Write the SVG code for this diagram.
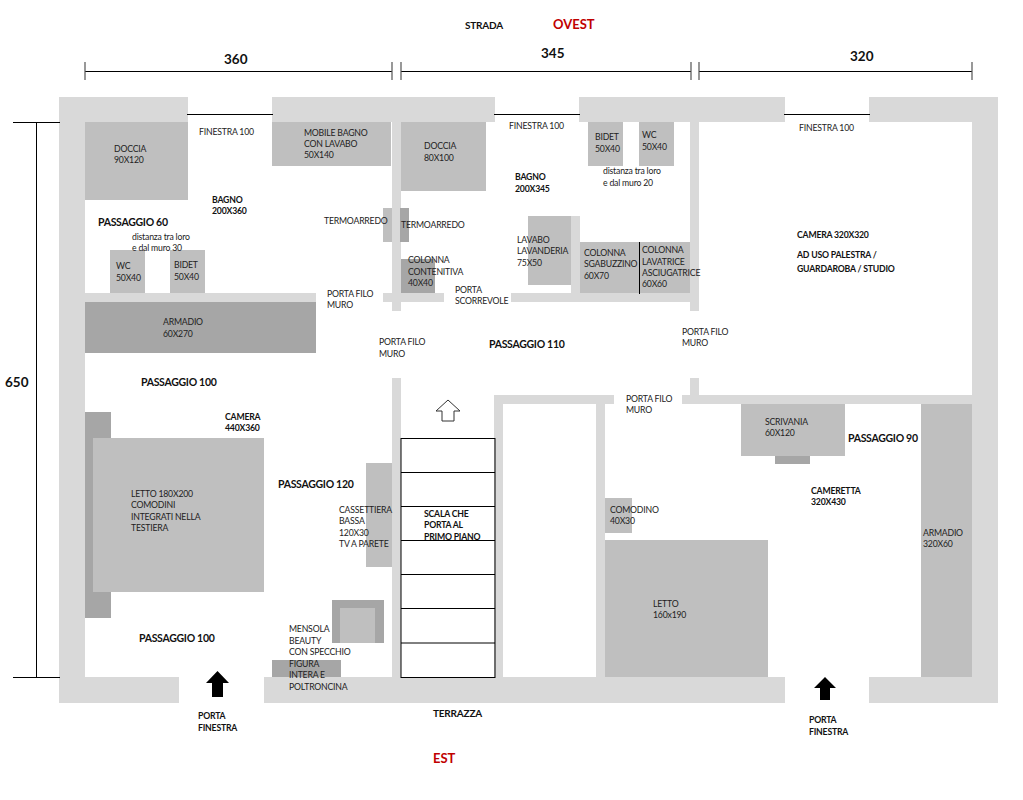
<svg xmlns="http://www.w3.org/2000/svg" width="1023" height="800" viewBox="0 0 1023 800">
<style>
text{font-family:Lato,"Liberation Sans",Arial,sans-serif;font-size:8.700px;letter-spacing:-0.2px;fill:#222}
.b{font-weight:bold;fill:#111}
.p{font-weight:bold;font-size:10.500px;letter-spacing:-0.3px;fill:#111}
.d{font-weight:bold;font-size:13.500px;letter-spacing:0;fill:#111}
.r{font-weight:bold;font-size:13px;letter-spacing:0;fill:#c00000}
.w{fill:#d9d9d9}.f{fill:#bfbfbf}.k{fill:#a6a6a6}
.l{stroke:#000;stroke-width:1;fill:none}
.t{stroke:#555;stroke-width:1.2;fill:none}
</style>
<rect width="1023" height="800" fill="#fff"/>
<g id="walls">
<rect class="w" x="59" y="97" width="129" height="25"/>
<rect class="w" x="272" y="97" width="223" height="25"/>
<rect class="w" x="579" y="97" width="206" height="25"/>
<rect class="w" x="869" y="97" width="129" height="25"/>
<rect class="w" x="59" y="97" width="26" height="606"/>
<rect class="w" x="972" y="97" width="26" height="606"/>
<rect class="w" x="59" y="677" width="120" height="26"/>
<rect class="w" x="264" y="677" width="521" height="26"/>
<rect class="w" x="869" y="677" width="129" height="26"/>
<rect class="w" x="392" y="122" width="9" height="189"/>
<rect class="w" x="392" y="378" width="9" height="299"/>
<rect class="w" x="690" y="122" width="9" height="189"/>
<rect class="w" x="690" y="378" width="9" height="18"/>
<rect class="w" x="85" y="293" width="231" height="9"/>
<rect class="w" x="383" y="293" width="61" height="9"/>
<rect class="w" x="511" y="293" width="180" height="9"/>
<rect class="w" x="571" y="216" width="9" height="77"/>
<rect class="w" x="494" y="395" width="120" height="9"/>
<rect class="w" x="682" y="395" width="290" height="9"/>
<rect class="w" x="494" y="395" width="9" height="282"/>
<rect class="w" x="596" y="395" width="9" height="282"/>
</g>
<g id="windows">
<line class="l" x1="187" y1="114.500" x2="273" y2="114.500"/>
<line class="l" x1="494" y1="114.500" x2="580" y2="114.500"/>
<line class="l" x1="784" y1="114.500" x2="870" y2="114.500"/>
</g>
<g id="doccia1"><rect class="f" x="85" y="122" width="103" height="78"/><text x="114" y="152">DOCCIA</text><text x="114" y="163">90X120</text></g>
<g id="mobile-bagno"><rect class="f" x="272" y="122" width="119" height="44"/><text x="304" y="136">MOBILE BAGNO</text><text x="304" y="147">CON LAVABO</text><text x="304" y="158">50X140</text></g>
<g id="wc1"><rect class="f" x="110" y="250" width="35" height="43"/><text x="116" y="269">WC</text><text x="116" y="281">50X40</text></g>
<g id="bidet1"><rect class="f" x="170" y="250" width="35" height="43"/><text x="174" y="268">BIDET</text><text x="174" y="280">50X40</text></g>
<g id="armadio1"><rect class="k" x="85" y="302" width="231" height="51"/><text x="163" y="325">ARMADIO</text><text x="163" y="337">60X270</text></g>
<g id="termoarredo1"><rect class="f" x="383" y="208" width="9" height="34"/><text x="324" y="224">TERMOARREDO</text></g>
<g id="doccia2"><rect class="f" x="401" y="122" width="85" height="69"/><text x="424" y="149">DOCCIA</text><text x="424" y="161">80X100</text></g>
<g id="termoarredo2"><rect class="k" x="400" y="208" width="9" height="34"/><text x="401" y="228">TERMOARREDO</text></g>
<g id="colonna-contenitiva"><rect class="k" x="401" y="259" width="34" height="34"/><text x="408" y="263">COLONNA</text><text x="408" y="274.500">CONTENITIVA</text><text x="408" y="286">40X40</text></g>
<g id="bidet2"><rect class="f" x="588" y="122" width="35" height="44"/><text x="595" y="140">BIDET</text><text x="595" y="152">50X40</text></g>
<g id="wc2"><rect class="f" x="639" y="122" width="35" height="44"/><text x="642" y="138">WC</text><text x="642" y="150">50X40</text></g>
<g id="lavabo-lavanderia"><rect class="f" x="528" y="216" width="43" height="69"/><text x="517" y="243">LAVABO</text><text x="517" y="254">LAVANDERIA</text><text x="517" y="266">75X50</text></g>
<g id="colonne"><rect class="f" x="580" y="242" width="110" height="51"/><line class="l" x1="639.500" y1="242" x2="639.500" y2="294"/><text x="584" y="256">COLONNA</text><text x="584" y="267">SGABUZZINO</text><text x="584" y="279">60X70</text><text x="642" y="253">COLONNA</text><text x="642" y="265">LAVATRICE</text><text x="642" y="276">ASCIUGATRICE</text><text x="642" y="287">60X60</text></g>
<g id="comodini"><rect class="k" x="85" y="412" width="26" height="206"/></g>
<g id="letto1"><rect class="f" x="93" y="438" width="171" height="154"/><text x="131" y="497">LETTO 180X200</text><text x="131" y="508">COMODINI</text><text x="131" y="520">INTEGRATI NELLA</text><text x="131" y="531">TESTIERA</text></g>
<g id="cassettiera"><rect class="f" x="366" y="463" width="26" height="104"/><text x="339" y="513">CASSETTIERA</text><text x="339" y="524">BASSA</text><text x="339" y="536">120X30</text><text x="339" y="547">TV A PARETE</text></g>
<g id="poltroncina"><rect class="k" x="332" y="600" width="52" height="43"/><rect class="f" x="340" y="608" width="35" height="35"/></g>
<g id="mensola"><rect class="k" x="272" y="660" width="69" height="17"/><text x="289" y="632">MENSOLA</text><text x="289" y="644">BEAUTY</text><text x="289" y="655">CON SPECCHIO</text><text x="289" y="667">FIGURA</text><text x="289" y="678">INTERA E</text><text x="289" y="690">POLTRONCINA</text></g>
<g id="scala"><rect class="l" x="401" y="438.500" width="94" height="239"/><path class="l" d="M401 472.500H495M401 506.500H495M401 540.500H495M401 574.500H495M401 608.500H495M401 643H495"/><text class="b" x="424" y="517">SCALA CHE</text><text class="b" x="424" y="528">PORTA AL</text><text class="b" x="424" y="540">PRIMO PIANO</text></g>
<g id="scrivania"><rect class="f" x="741" y="404" width="104" height="52"/><rect class="k" x="775" y="456" width="35" height="8"/><text x="765" y="425">SCRIVANIA</text><text x="765" y="436">60X120</text></g>
<g id="comodino"><rect class="f" x="605" y="498" width="27" height="35"/><text x="610" y="513">COMODINO</text><text x="610" y="524">40X30</text></g>
<g id="letto2"><rect class="f" x="605" y="540" width="163" height="137"/><text x="653" y="607">LETTO</text><text x="653" y="618">160x190</text></g>
<g id="armadio2"><rect class="f" x="921" y="404" width="51" height="273"/><text x="923" y="536">ARMADIO</text><text x="923" y="547">320X60</text></g>
<g id="connectors">
<path class="l" d="M85 71.500H392M401 71.500H691M699 71.500H972M36.500 122V677M13 122.500H60M13 677.500H60"/>
<path class="t" d="M85 62V80M392 62V80M401 62V80M691 62V80M699 62V80M972 62V80"/>
<path d="M217.500 671L229 683H223V697H212V683H206Z" fill="#000"/>
<path d="M825 677L836 688H830V700H820V688H814Z" fill="#000"/>
<path d="M448 400L460 411H454V421H442V411H436Z" fill="#fff" stroke="#333" stroke-width="1"/>
</g>
<g id="labels">
<text class="d" x="224" y="64">360</text><text class="d" x="541" y="58">345</text><text class="d" x="850" y="61">320</text><text class="d" x="5" y="387">650</text>
<text class="b" x="465" y="29" style="font-size:10px">STRADA</text><text class="r" x="553" y="29">OVEST</text><text class="r" x="433" y="763">EST</text>
<text x="199" y="135">FINESTRA 100</text><text x="509" y="129">FINESTRA 100</text><text x="799" y="131">FINESTRA 100</text>
<text class="b" x="212" y="203">BAGNO</text><text class="b" x="212" y="214">200X360</text>
<text class="b" x="515" y="180">BAGNO</text><text class="b" x="515" y="192">200X345</text>
<text class="p" x="98" y="226">PASSAGGIO 60</text>
<text x="132" y="240">distanza tra loro</text><text x="132" y="251">e dal muro 30</text>
<text x="603" y="174">distanza tra loro</text><text x="603" y="186">e dal muro 20</text>
<text x="327" y="297">PORTA FILO</text><text x="327" y="308">MURO</text>
<text x="379" y="345">PORTA FILO</text><text x="379" y="357">MURO</text>
<text x="455" y="293">PORTA</text><text x="455" y="304">SCORREVOLE</text>
<text class="p" x="489" y="348">PASSAGGIO 110</text>
<text x="682" y="335">PORTA FILO</text><text x="682" y="346">MURO</text>
<text x="626" y="402">PORTA FILO</text><text x="626" y="413">MURO</text>
<text class="b" x="797" y="238">CAMERA 320X320</text><text class="b" x="797" y="258">AD USO PALESTRA /</text><text class="b" x="797" y="272">GUARDAROBA / STUDIO</text>
<text class="p" x="141" y="386">PASSAGGIO 100</text>
<text class="b" x="225" y="420">CAMERA</text><text class="b" x="225" y="431">440X360</text>
<text class="p" x="278" y="488">PASSAGGIO 120</text>
<text class="p" x="139" y="642">PASSAGGIO 100</text>
<text class="p" x="848" y="442">PASSAGGIO 90</text>
<text class="b" x="811" y="494">CAMERETTA</text><text class="b" x="811" y="505">320X430</text>
<text class="b" x="198" y="719">PORTA</text><text class="b" x="198" y="731">FINESTRA</text>
<text class="b" x="809" y="723">PORTA</text><text class="b" x="809" y="735">FINESTRA</text>
<text class="b" x="433" y="717" style="font-size:10px">TERRAZZA</text>
</g>
</svg>
